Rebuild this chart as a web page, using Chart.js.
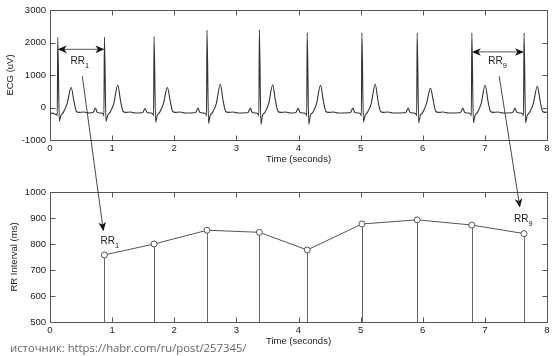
<!DOCTYPE html>
<html><head><meta charset="utf-8">
<script src="https://cdn.jsdelivr.net/npm/chart.js@4.4.0/dist/chart.umd.min.js"></script>
<style>
html,body{margin:0;padding:0;background:#fff;}
#wrap{position:relative;width:556px;height:356px;overflow:hidden;background:#fff;}
canvas{position:absolute;left:0;top:0;}
#src{position:absolute;left:10px;top:339px;font-family:"Open Sans";font-size:11.3px;color:#666;white-space:nowrap;line-height:18px;}
</style></head><body>
<div id="wrap">
<canvas id="c1" width="556" height="356"></canvas>
<canvas id="c2" width="556" height="356"></canvas>
<div id="src">источник: https://habr.com/ru/post/257345/</div>
</div>
<script>
// ---- data ----
const timeTicks = [0,1,2,3,4,5,6,7,8];
const ecgTicks = [-1000,0,1000,2000,3000];
const rrTicks = [500,600,700,800,900,1000];

const ecgTime = [
0.000,0.020,0.050,0.080,0.105,0.117,0.125,0.150,0.175,0.215,0.275,0.340,0.385,0.425,0.465,0.545,0.625,
0.676,0.696,0.731,0.761,0.816,0.856,0.868,0.876,0.901,0.926,0.966,1.026,1.091,1.136,1.176,1.216,1.296,1.376,
1.475,1.495,1.530,1.560,1.615,1.655,1.667,1.675,1.700,1.725,1.765,1.825,1.890,1.935,1.975,2.015,2.095,2.175,
2.327,2.347,2.382,2.412,2.467,2.507,2.519,2.527,2.552,2.577,2.617,2.677,2.742,2.787,2.827,2.867,2.947,3.027,
3.170,3.190,3.225,3.255,3.310,3.350,3.362,3.370,3.395,3.420,3.460,3.520,3.585,3.630,3.670,3.710,3.790,3.870,
3.940,3.960,3.995,4.025,4.080,4.120,4.132,4.140,4.165,4.190,4.230,4.290,4.355,4.400,4.440,4.480,4.560,4.640,
4.820,4.840,4.875,4.905,4.960,5.000,5.012,5.020,5.045,5.070,5.110,5.170,5.235,5.280,5.320,5.360,5.440,5.520,
5.710,5.730,5.765,5.795,5.850,5.890,5.902,5.910,5.935,5.960,6.000,6.060,6.125,6.170,6.210,6.250,6.330,6.410,
6.590,6.610,6.645,6.675,6.730,6.770,6.782,6.790,6.815,6.840,6.880,6.940,7.005,7.050,7.090,7.130,7.210,7.290,
7.430,7.450,7.485,7.515,7.570,7.610,7.622,7.630,7.655,7.680,7.720,7.780,7.845,7.890,7.930,7.970,8.000];
const ecgUv = [
-80,-190,-170,-210,-200,-260,2160,-420,-250,-150,120,615,200,-120,-150,-140,-170,
-160,-150,-20,-150,-170,-200,-260,2170,-430,-250,-150,120,686,200,-120,-150,-140,-170,
-160,-150,-30,-150,-170,-200,-260,2190,-450,-250,-150,120,615,200,-120,-150,-140,-170,
-160,-150,-20,-150,-170,-200,-260,2380,-490,-250,-150,120,717,200,-120,-150,-140,-170,
-160,-150,-20,-150,-170,-200,-260,2400,-520,-250,-150,120,700,200,-120,-150,-140,-170,
-160,-150,-20,-150,-170,-200,-260,2300,-520,-250,-150,120,686,200,-120,-150,-140,-170,
-160,-150,-20,-150,-170,-200,-260,2300,-440,-250,-150,120,717,200,-120,-150,-140,-170,
-160,-150,-20,-150,-170,-200,-260,2300,-470,-250,-150,120,594,200,-120,-150,-140,-170,
-160,-150,-20,-150,-170,-200,-260,2300,-470,-250,-150,120,686,200,-120,-150,-140,-170,
-160,-150,-20,-150,-170,-200,-260,2300,-470,-250,-150,120,655,200,-120,-150,-140];

const rPeakTime = [0.876,1.675,2.527,3.370,4.140,5.020,5.910,6.790,7.630];
const rrMs = [758,800,853,845,777,877,893,873,840];

// annotations (data coordinates)
const spanArrows = [[0.125,0.876,1790],[6.790,7.630,1710]];      // [t0,t1,uV] top chart
const topLabels = [[0.33,1425,'1'],[7.055,1425,'9']];             // [t,uV,sub]
const bottomLabels = [[0.812,811,'1'],[7.47,894,'9']];            // [t,ms,sub]
const linkArrows = [[0.52,963,0.86,849],[7.23,963,7.564,940]];     // [t0,uV0,t1,ms1]

// ---- styling ----
const FONT = 'Liberation Sans, Arial, sans-serif';
const TXT = '#222';
const fnt = {family: FONT, size: 9.5};

function xAxis(h, titlePad){
  return {
    type:'linear', min:0, max:8,
    afterBuildTicks: s => { s.ticks = timeTicks.map(v => ({value:v})); },
    afterFit: s => { s.height = h; },
    grid:{display:false, drawTicks:false}, border:{display:false},
    ticks:{padding:3, color:TXT, font:fnt, maxRotation:0, callback: v => String(v)},
    title:{display:true, text:'Time (seconds)', color:TXT, font:fnt, padding:{top:0,bottom:titlePad}}
  };
}
function yAxis(min, max, ticks, title, titlePad){
  return {
    min, max,
    afterBuildTicks: s => { s.ticks = ticks.map(v => ({value:v})); },
    afterFit: s => { s.width = 50; },
    grid:{display:false, drawTicks:false}, border:{display:false},
    ticks:{padding:4, color:TXT, font:fnt, callback: v => String(v)},
    title:{display:true, text:title, color:TXT, font:fnt, padding:{top:titlePad,bottom:0}}
  };
}

const boxPlugin = {
  id:'box',
  afterDatasetsDraw(chart){
    const {ctx, chartArea:a, scales:{x,y}} = chart;
    const L = Math.round(a.left)+0.5, R = Math.round(a.right)+0.5, T = Math.round(a.top)+0.5, B = Math.round(a.bottom)+0.5;
    ctx.save();
    ctx.strokeStyle = '#555'; ctx.lineWidth = 1;
    ctx.beginPath();
    ctx.rect(L, T, R-L, B-T);
    const k = 5;
    x.ticks.forEach(t => { const p = Math.round(x.getPixelForValue(t.value))+0.5;
      ctx.moveTo(p,B); ctx.lineTo(p,B-k); ctx.moveTo(p,T); ctx.lineTo(p,T+k); });
    y.ticks.forEach(t => { const p = Math.round(y.getPixelForValue(t.value))+0.5;
      ctx.moveTo(L,p); ctx.lineTo(L+k,p); ctx.moveTo(R,p); ctx.lineTo(R-k,p); });
    ctx.stroke();
    ctx.restore();
  }
};

const stemPlugin = {
  id:'stems',
  beforeDatasetsDraw(chart){
    const {ctx, chartArea:a} = chart;
    const meta = chart.getDatasetMeta(0);
    ctx.save(); ctx.strokeStyle = '#666'; ctx.lineWidth = 1;
    ctx.beginPath();
    meta.data.forEach(el => { const px = Math.round(el.x)+0.5; ctx.moveTo(px, el.y); ctx.lineTo(px, a.bottom); });
    ctx.stroke(); ctx.restore();
  }
};

function head(ctx, x, y, ang, len, half, notch){
  ctx.save(); ctx.translate(x,y); ctx.rotate(ang);
  ctx.beginPath(); ctx.moveTo(0,0); ctx.lineTo(-len,-half); ctx.lineTo(-len+notch,0); ctx.lineTo(-len,half); ctx.closePath();
  ctx.fillStyle = '#111'; ctx.fill(); ctx.restore();
}
function rrLabel(ctx, px, py, sub){
  ctx.fillStyle = TXT; ctx.textBaseline = 'middle'; ctx.textAlign = 'left';
  ctx.font = '10px ' + FONT; ctx.fillText('RR', px, py);
  const w = ctx.measureText('RR').width;
  ctx.font = '7.5px ' + FONT; ctx.fillText(sub, px + w, py + 4.5);
}

let chart1;
const annoPlugin = {
  id:'anno',
  afterDraw(chart){
    const ctx = chart.ctx;
    const x1 = chart1.scales.x, y1 = chart1.scales.y, x2 = chart.scales.x, y2 = chart.scales.y;
    ctx.save();
    spanArrows.forEach(([t0,t1,v]) => {
      const a = x1.getPixelForValue(t0), b = x1.getPixelForValue(t1), y = y1.getPixelForValue(v);
      ctx.strokeStyle = '#777'; ctx.lineWidth = 1.2;
      ctx.beginPath(); ctx.moveTo(a+6,y); ctx.lineTo(b-6,y); ctx.stroke();
      head(ctx, a, y, Math.PI, 9, 3.8, 2.5);
      head(ctx, b, y, 0, 9, 3.8, 2.5);
    });
    topLabels.forEach(([t,v,s]) => rrLabel(ctx, x1.getPixelForValue(t), y1.getPixelForValue(v), s));
    bottomLabels.forEach(([t,v,s]) => rrLabel(ctx, x2.getPixelForValue(t), y2.getPixelForValue(v), s));
    linkArrows.forEach(([t0,v0,t1,v1]) => {
      const ax = x1.getPixelForValue(t0), ay = y1.getPixelForValue(v0);
      const bx = x2.getPixelForValue(t1), by = y2.getPixelForValue(v1);
      const ang = Math.atan2(by-ay, bx-ax);
      ctx.strokeStyle = '#333'; ctx.lineWidth = 0.9;
      ctx.beginPath(); ctx.moveTo(ax,ay); ctx.lineTo(bx-6*Math.cos(ang), by-6*Math.sin(ang)); ctx.stroke();
      head(ctx, bx, by, ang, 9, 3.8, 2.5);
    });
    ctx.restore();
  }
};

Chart.defaults.font.family = FONT;

chart1 = new Chart(document.getElementById('c1'), {
  type:'line',
  data:{datasets:[{
    data: ecgTime.map((t,i) => ({x:t, y:ecgUv[i]})),
    borderColor:'#333', borderWidth:1.1, pointRadius:0, cubicInterpolationMode:'monotone', fill:false
  }]},
  options:{
    responsive:false, animation:false, events:[],
    layout:{padding:{left:0, right:9, top:10, bottom:186}},
    plugins:{legend:{display:false}, tooltip:{enabled:false}},
    scales:{ x: xAxis(30, 5), y: yAxis(-1000, 3000, ecgTicks, 'ECG (uV)', 5) }
  },
  plugins:[boxPlugin]
});

new Chart(document.getElementById('c2'), {
  type:'line',
  data:{datasets:[{
    data: rPeakTime.map((t,i) => ({x:t, y:rrMs[i]})),
    borderColor:'#555', borderWidth:1, pointRadius:3, pointBorderWidth:1,
    pointBorderColor:'#555', pointBackgroundColor:'#fff', fill:false, tension:0
  }]},
  options:{
    responsive:false, animation:false, events:[],
    layout:{padding:{left:0, right:9, top:192, bottom:0}},
    plugins:{legend:{display:false}, tooltip:{enabled:false}},
    scales:{ x: xAxis(34, 9), y: yAxis(500, 1000, rrTicks, 'RR Interval (ms)', 9) }
  },
  plugins:[stemPlugin, boxPlugin, annoPlugin]
});
</script>
</body></html>
